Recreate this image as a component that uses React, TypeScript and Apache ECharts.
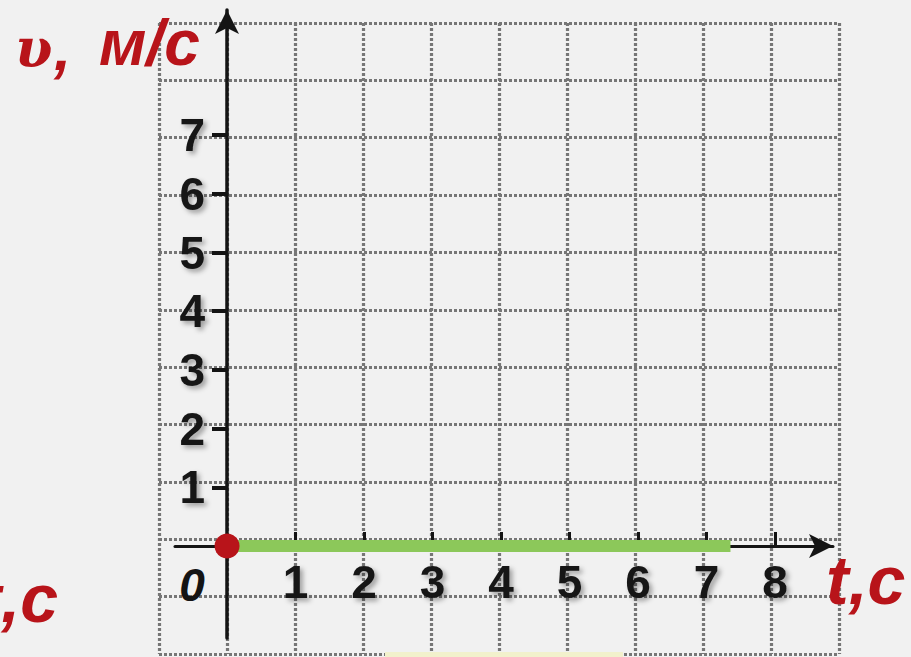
import React, { useEffect, useRef } from "react";
import * as echarts from "echarts";

// ---- data ----
const xTickValues = [1, 2, 3, 4, 5, 6, 7, 8];
const yTickValues = [1, 2, 3, 4, 5, 6, 7];
const timeValues = [0, 7.35]; // t, c
const speedValues = [0, 0]; // v, m/s
const startPoint = [0, 0];
const gridCols = 10;
const gridRows = 11;
const yAxisTitle = "м/с";
const yAxisSymbol = "υ";
const xAxisTitle = "t,c";

const RED = "#b8141a";
const INK = "#141414";
const labelShadow = {
  textShadowColor: "rgba(0,0,0,0.35)",
  textShadowBlur: 5,
  textShadowOffsetX: 3,
  textShadowOffsetY: 3,
};
const titleShadow = {
  shadowColor: "rgba(0,0,0,0.3)",
  shadowBlur: 6,
  shadowOffsetX: 3,
  shadowOffsetY: 3,
};

export default function App() {
  const ref = useRef<HTMLDivElement>(null);
  useEffect(() => {
    document.body.style.margin = "0";
    const chart = echarts.init(ref.current!, null, { renderer: "svg" });
    const dotted = {
      show: true,
      lineStyle: {
        color: "#767676",
        width: 3.2,
        type: [3, 2] as any,
      },
    };
    const option: any = {
      animation: false,
      backgroundColor: "#f1f1f1",
      grid: [
        { left: 159, top: 23, width: 680, height: 631, outerBoundsMode: "none", containLabel: false },
        { left: 175, top: 10, width: 658, height: 628, outerBoundsMode: "none", containLabel: false },
      ],
      xAxis: [
        {
          gridIndex: 0,
          type: "value",
          min: 0,
          max: gridCols,
          interval: 1,
          axisLine: { show: false },
          axisTick: { show: false },
          axisLabel: { show: false },
          splitLine: dotted,
        },
        {
          gridIndex: 1,
          type: "value",
          position: "bottom",
          offset: -92,
          min: -0.76,
          max: 8.847,
          axisLine: {
            onZero: false,
            symbol: ["none", "arrow"],
            symbolSize: [18, 24],
            lineStyle: { color: INK, width: 3 },
          },
          axisTick: {
            inside: true,
            length: 14,
            customValues: xTickValues,
            lineStyle: { color: INK, width: 3 },
          },
          axisLabel: {
            customValues: xTickValues,
            margin: 13,
            fontSize: 46,
            fontWeight: "bold",
            fontFamily: "Liberation Sans",
            color: INK,
            ...labelShadow,
          },
          splitLine: { show: false },
        },
      ],
      yAxis: [
        {
          gridIndex: 0,
          type: "value",
          min: 0,
          max: gridRows,
          interval: 1,
          axisLine: { show: false },
          axisTick: { show: false },
          axisLabel: { show: false },
          splitLine: dotted,
        },
        {
          gridIndex: 1,
          type: "value",
          position: "left",
          offset: -52,
          min: -1.567,
          max: 9.131,
          axisLine: {
            onZero: false,
            symbol: ["none", "arrow"],
            symbolSize: [18, 24],
            lineStyle: { color: INK, width: 3.5 },
          },
          axisTick: {
            inside: false,
            length: 15,
            customValues: yTickValues,
            lineStyle: { color: INK, width: 4 },
          },
          axisLabel: {
            customValues: yTickValues,
            margin: 22,
            fontSize: 46,
            fontWeight: "bold",
            fontFamily: "Liberation Sans",
            color: INK,
            ...labelShadow,
          },
          splitLine: { show: false },
        },
      ],
      series: [
        {
          type: "line",
          xAxisIndex: 1,
          yAxisIndex: 1,
          data: timeValues.map((t, i) => [t, speedValues[i]]),
          showSymbol: false,
          lineStyle: { color: "#8cc85a", width: 12, cap: "butt" },
          z: 3,
        },
        {
          type: "scatter",
          xAxisIndex: 1,
          yAxisIndex: 1,
          data: [startPoint],
          symbolSize: 25,
          itemStyle: { color: RED, opacity: 1 },
          z: 4,
        },
      ],
      graphic: [
        {
          type: "rect",
          shape: { x: 385, y: 652, width: 238, height: 6 },
          style: { fill: "#f2f1cc" },
          z: 1,
        },
        {
          type: "text",
          style: {
            text: yAxisSymbol,
            x: 15,
            y: 48,
            verticalAlign: "middle",
            font: 'italic bold 54px "DejaVu Serif"',
            fill: RED,
            ...titleShadow,
          },
          z: 10,
        },
        {
          type: "text",
          style: {
            text: ",",
            x: 54,
            y: 48,
            verticalAlign: "middle",
            font: 'italic bold 62px "Liberation Sans"',
            fill: RED,
            ...titleShadow,
          },
          z: 10,
        },
        {
          type: "text",
          style: {
            text: yAxisTitle,
            x: 99,
            y: 43,
            verticalAlign: "middle",
            font: 'italic bold 64px "Liberation Sans"',
            fill: RED,
            ...titleShadow,
          },
          z: 10,
        },
        {
          type: "text",
          style: {
            text: xAxisTitle,
            x: 826,
            y: 580,
            verticalAlign: "middle",
            font: 'italic bold 68px "Liberation Sans"',
            fill: RED,
            ...titleShadow,
          },
          z: 10,
        },
        {
          type: "text",
          style: {
            text: xAxisTitle,
            x: 58,
            y: 598,
            align: "right",
            verticalAlign: "middle",
            font: 'italic bold 68px "Liberation Sans"',
            fill: RED,
            ...titleShadow,
          },
          z: 10,
        },
        {
          type: "text",
          style: {
            text: "0",
            x: 192,
            y: 585,
            align: "center",
            verticalAlign: "middle",
            font: 'italic bold 46px "Liberation Sans"',
            fill: INK,
            shadowColor: "rgba(0,0,0,0.35)",
            shadowBlur: 5,
            shadowOffsetX: 3,
            shadowOffsetY: 3,
          },
          z: 10,
        },
      ],
    };
    chart.setOption(option);
    return () => chart.dispose();
  }, []);
  return (
    <div
      ref={ref}
      style={{ position: "fixed", left: 0, top: 0, width: 911, height: 657 }}
    />
  );
}
